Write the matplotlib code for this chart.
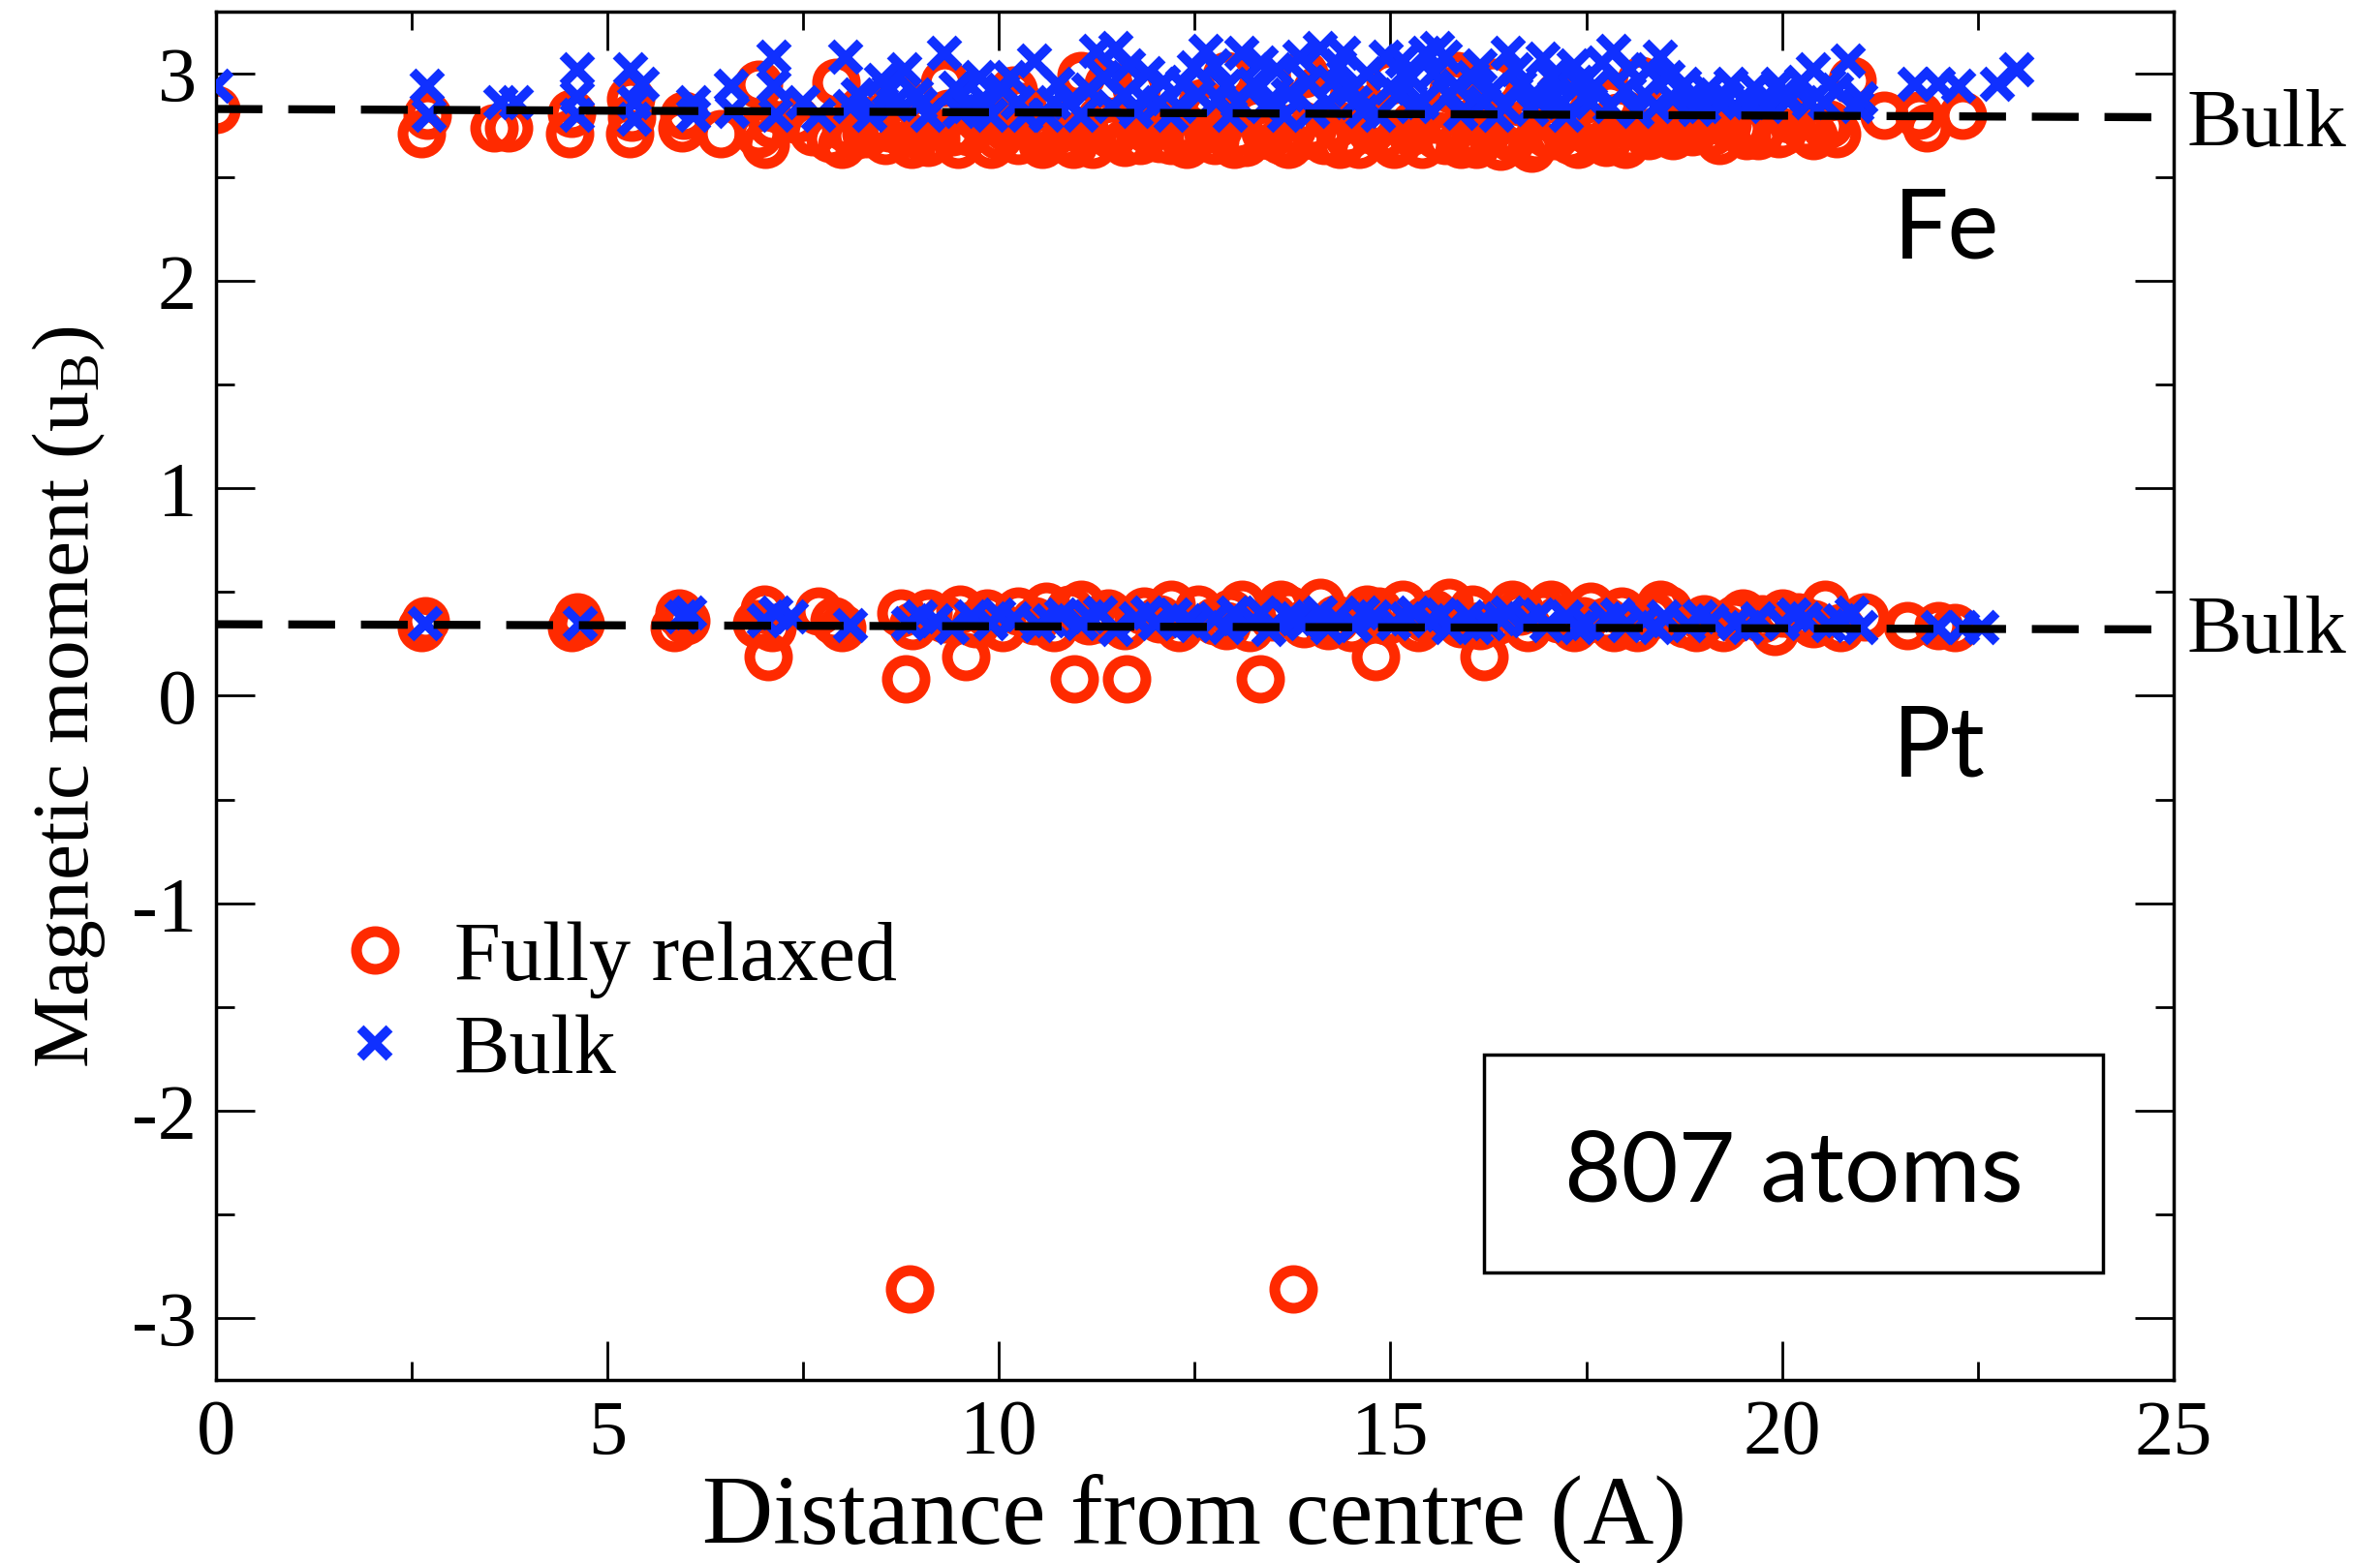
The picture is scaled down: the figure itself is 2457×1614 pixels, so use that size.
import matplotlib
matplotlib.use("Agg")
import matplotlib.pyplot as plt
from matplotlib.patches import Rectangle
from matplotlib.ticker import MultipleLocator

plt.rcParams.update({
    "font.family": "Liberation Serif",
    "mathtext.fontset": "custom",
    "mathtext.rm": "Liberation Serif",
    "mathtext.it": "Liberation Serif:italic",
    "axes.unicode_minus": False,
})

RED = "#ff2a00"
BLUE = "#1030ff"

# ── Fe sites: magnetic moment vs distance from centre ────────────────
fe_relaxed_x = [0.00, 2.63, 2.70, 3.56, 3.74, 4.52, 4.55, 5.28, 5.30, 5.31,
                5.95, 5.98, 6.45, 6.93, 6.93, 7.02, 7.10, 7.40, 7.62, 7.85,
                7.92, 8.00, 8.05, 8.30, 8.42, 8.55, 8.70, 8.78, 8.88, 9.05,
                9.20, 9.35, 9.48, 9.62, 9.75, 10.00, 10.18, 10.25, 10.40, 10.55,
                10.70, 10.85, 10.95, 11.05, 11.10, 11.30, 11.45, 11.60, 11.75, 11.90,
                12.05, 12.20, 12.35, 12.50, 12.60, 12.75, 12.90, 13.05, 13.15, 13.30,
                13.45, 13.60, 13.75, 13.90, 14.05, 14.15, 14.30, 14.45, 14.60, 14.75,
                14.90, 15.00, 15.10, 15.25, 15.40, 15.55, 15.70, 15.85, 15.95, 16.10,
                16.25, 16.40, 16.55, 16.70, 16.85, 17.00, 17.15, 17.30, 17.45, 17.60,
                17.75, 17.90, 18.05, 18.20, 18.35, 18.55, 18.70, 18.90, 19.10, 19.30,
                19.55, 19.75, 19.95, 20.10, 20.30, 20.55, 20.70, 20.90, 21.30, 21.75,
                21.85, 22.30,
                8.15, 8.60, 9.10, 9.40, 9.90, 10.10, 10.60, 11.20, 11.50, 11.80,
                12.10, 12.40, 12.80, 13.00, 13.40, 13.70, 14.00, 14.35, 14.70, 15.05,
                15.30, 15.60, 15.90, 16.20, 16.50, 16.80, 17.10, 17.40, 17.70, 18.00,
                18.30, 18.60, 18.85, 19.20, 19.45, 19.70, 20.00, 20.40, 20.60, 11.00,
                12.70, 14.50, 16.00, 17.80, 10.30, 15.80, 16.30, 11.40, 9.30, 13.90]
fe_relaxed_m = [2.83, 2.71, 2.80, 2.74, 2.74, 2.71, 2.81, 2.71, 2.88, 2.79,
                2.74, 2.80, 2.71, 2.95, 2.71, 2.66, 2.76, 2.78, 2.72, 2.69,
                2.96, 2.66, 2.74, 2.71, 2.78, 2.68, 2.91, 2.71, 2.66, 2.75,
                2.69, 2.81, 2.66, 2.72, 2.78, 2.70, 2.92, 2.68, 2.76, 2.66,
                2.72, 2.69, 2.66, 2.99, 2.72, 2.78, 2.70, 2.67, 2.93, 2.73,
                2.69, 2.68, 2.75, 2.70, 2.86, 2.68, 2.99, 2.72, 2.67, 2.79,
                2.70, 2.68, 2.74, 2.70, 2.92, 2.68, 2.76, 2.70, 2.66, 2.73,
                2.70, 2.97, 2.68, 2.72, 2.66, 2.78, 2.68, 2.99, 2.71, 2.66,
                2.73, 2.65, 2.69, 2.76, 2.67, 2.71, 2.90, 2.68, 2.74, 2.70,
                2.67, 2.79, 2.69, 2.97, 2.72, 2.76, 2.74, 2.77, 2.72, 2.76,
                2.70, 2.74, 2.71, 2.78, 2.73, 2.75, 2.71, 2.97, 2.80, 2.80,
                2.74, 2.80,
                2.70, 2.74, 2.67, 2.72, 2.66, 2.74, 2.70, 2.66, 2.74, 2.68,
                2.78, 2.66, 2.74, 2.66, 2.72, 2.66, 2.74, 2.66, 2.78, 2.66,
                2.76, 2.70, 2.66, 2.76, 2.72, 2.64, 2.70, 2.66, 2.73, 2.66,
                2.70, 2.70, 2.72, 2.68, 2.74, 2.70, 2.72, 2.70, 2.76, 2.82,
                2.82, 2.84, 2.84, 2.86, 2.84, 2.92, 2.96, 2.95, 2.96, 3.00]

fe_bulk_x = [0.00, 2.70, 2.72, 3.64, 3.84, 4.62, 4.62, 4.62, 5.30, 5.45,
             5.35, 5.35, 6.10, 6.10, 6.58, 6.60, 7.13, 7.13, 7.15, 7.50,
             7.70, 8.05, 8.20, 8.35, 8.50, 8.65, 8.80, 8.95, 9.10, 9.30,
             9.45, 9.60, 9.75, 9.90, 10.05, 10.25, 10.45, 10.60, 10.75, 10.90,
             11.05, 11.25, 11.35, 11.50, 11.60, 11.75, 11.90, 12.05, 12.20, 12.35,
             12.50, 12.65, 12.80, 12.95, 13.10, 13.25, 13.40, 13.55, 13.70, 13.85,
             14.00, 14.10, 14.25, 14.40, 14.55, 14.70, 14.85, 15.00, 15.15, 15.30,
             15.45, 15.60, 15.75, 15.90, 16.05, 16.20, 16.35, 16.50, 16.65, 16.80,
             16.95, 17.10, 17.25, 17.40, 17.55, 17.70, 17.85, 18.00, 18.15, 18.30,
             18.45, 18.60, 18.75, 18.90, 19.05, 19.20, 19.35, 19.50, 19.65, 19.80,
             19.95, 20.10, 20.25, 20.40, 20.55, 20.70, 20.85, 21.00, 21.70, 22.00,
             22.25, 22.75, 23.00,
             8.10, 8.60, 9.00, 9.50, 9.80, 10.15, 10.35, 10.70, 11.15, 11.45,
             11.65, 11.85, 12.10, 12.30, 12.55, 12.75, 12.90, 13.05, 13.35, 13.50,
             13.65, 13.95, 14.20, 14.35, 14.50, 14.65, 14.95, 15.10, 15.25, 15.40,
             15.55, 15.70, 15.85, 16.15, 16.30, 16.45, 16.60, 16.90, 17.05, 17.20,
             17.35, 17.60, 17.80, 18.05, 18.25, 18.40, 18.55, 18.85, 19.00, 19.30,
             19.60, 20.00, 20.35, 20.60, 20.95]
fe_bulk_m = [2.94, 2.94, 2.80, 2.86, 2.86, 3.02, 2.89, 2.80, 3.02, 2.95,
             2.86, 2.78, 2.86, 2.80, 2.94, 2.82, 3.08, 2.94, 2.80, 2.86,
             2.80, 3.08, 2.90, 2.80, 2.97, 2.85, 3.02, 2.90, 2.80, 3.10,
             2.93, 2.84, 2.98, 2.80, 2.92, 2.86, 3.06, 2.80, 2.95, 2.86,
             2.80, 3.11, 2.98, 3.12, 2.90, 2.82, 3.00, 2.86, 2.80, 2.95,
             3.03, 3.11, 2.88, 2.80, 3.10, 2.95, 2.84, 3.02, 2.90, 3.08,
             2.82, 3.12, 2.96, 3.10, 2.86, 3.00, 2.80, 2.93, 3.06, 2.84,
             3.10, 3.12, 2.90, 2.81, 2.98, 2.86, 2.80, 3.10, 2.94, 2.83,
             3.07, 2.90, 2.80, 2.96, 2.86, 3.05, 3.11, 2.92, 2.82, 3.02,
             3.08, 2.88, 2.95, 2.83, 2.92, 2.86, 2.95, 2.88, 2.93, 2.84,
             2.95, 2.88, 2.96, 3.02, 2.86, 2.92, 3.06, 2.88, 2.95, 2.95,
             2.94, 2.95, 3.02,
             2.84, 2.92, 2.85, 2.82, 2.88, 2.98, 2.80, 2.86, 2.92, 2.84,
             3.04, 2.88, 2.96, 2.84, 2.90, 3.04, 2.94, 2.86, 3.05, 2.88,
             2.80, 2.96, 2.86, 3.04, 2.92, 2.82, 3.08, 2.90, 2.98, 2.86,
             3.00, 3.08, 2.94, 3.04, 2.92, 2.84, 3.02, 2.88, 2.98, 2.86,
             3.04, 2.94, 2.84, 3.02, 2.90, 2.84, 2.98, 2.90, 2.84, 2.88,
             2.86, 2.90, 2.86, 2.95, 2.84]

# ── Pt sites ─────────────────────────────────────────────────────────
pt_relaxed_x = [2.63, 2.68, 4.55, 4.62, 4.65, 5.85, 5.92, 6.00, 6.90, 7.00,
                7.06, 7.10, 7.70, 7.90, 8.00, 8.75, 8.81, 8.86, 8.90, 9.30,
                9.50, 9.58, 9.70, 9.85, 10.05, 10.25, 10.45, 10.70, 10.90, 10.96,
                11.05, 11.15, 11.40, 11.60, 11.63, 11.85, 12.05, 12.30, 12.55, 12.75,
                12.95, 13.10, 13.20, 13.34, 13.50, 13.70, 13.76, 13.90, 14.10, 14.30,
                14.50, 14.70, 14.81, 14.95, 15.15, 15.35, 15.55, 15.75, 15.90, 16.05,
                16.19, 16.35, 16.55, 16.75, 16.95, 17.15, 17.35, 17.55, 17.75, 17.95,
                18.15, 18.35, 18.55, 18.75, 19.00, 19.25, 19.50, 19.75, 19.90, 20.20,
                20.55, 20.75, 21.05, 21.60, 22.00, 22.20,
                9.10, 10.60, 11.30, 12.20, 12.90, 13.60, 14.20, 14.85, 15.45, 16.15,
                16.65, 17.05, 17.45, 17.85, 18.45, 18.90, 19.40, 20.00, 20.40]
pt_relaxed_m = [0.33, 0.36, 0.33, 0.38, 0.35, 0.33, 0.40, 0.36, 0.35, 0.42,
                0.19, 0.33, 0.41, 0.36, 0.33, 0.40, 0.08, -2.86, 0.34, 0.37,
                0.42, 0.19, 0.35, 0.40, 0.33, 0.41, 0.36, 0.33, 0.42, 0.08,
                0.44, 0.36, 0.40, 0.34, 0.08, 0.41, 0.37, 0.33, 0.42, 0.36,
                0.40, 0.44, 0.33, 0.08, 0.38, 0.42, -2.86, 0.35, 0.45, 0.37,
                0.33, 0.42, 0.19, 0.36, 0.44, 0.33, 0.40, 0.45, 0.35, 0.42,
                0.19, 0.36, 0.44, 0.33, 0.41, 0.37, 0.33, 0.43, 0.36, 0.41,
                0.33, 0.39, 0.42, 0.35, 0.37, 0.33, 0.40, 0.37, 0.31, 0.38,
                0.44, 0.33, 0.38, 0.34, 0.34, 0.33,
                0.40, 0.43, 0.37, 0.44, 0.34, 0.44, 0.34, 0.41, 0.37, 0.34,
                0.41, 0.44, 0.36, 0.33, 0.44, 0.33, 0.37, 0.40, 0.35]

pt_bulk_x = [2.68, 4.65, 5.95, 6.05, 7.00, 7.15, 7.35, 8.10, 8.85, 9.00,
             9.40, 9.65, 9.90, 10.20, 10.50, 10.80, 11.05, 11.30, 11.50, 11.75,
             12.00, 12.25, 12.50, 12.75, 13.00, 13.25, 13.45, 13.70, 13.90, 14.10,
             14.30, 14.55, 14.80, 15.05, 15.30, 15.50, 15.75, 16.00, 16.25, 16.50,
             16.75, 17.00, 17.25, 17.50, 17.75, 18.00, 18.25, 18.50, 18.80, 19.10,
             19.40, 19.70, 20.00, 20.30, 20.60, 20.90, 21.00, 22.00, 22.30, 22.55,
             9.20, 10.00, 10.65, 11.15, 11.90, 12.40, 12.90, 13.35, 13.80, 14.20,
             14.65, 15.20, 15.65, 16.10, 16.40, 16.90, 17.40, 17.90, 18.40, 18.95,
             19.55, 20.15, 20.75]
pt_bulk_m = [0.35, 0.35, 0.38, 0.40, 0.36, 0.40, 0.38, 0.34, 0.35, 0.38,
             0.33, 0.38, 0.35, 0.37, 0.34, 0.39, 0.35, 0.40, 0.32, 0.37,
             0.35, 0.39, 0.34, 0.37, 0.40, 0.36, 0.32, 0.38, 0.35, 0.40,
             0.37, 0.34, 0.38, 0.35, 0.40, 0.36, 0.33, 0.38, 0.35, 0.40,
             0.36, 0.34, 0.38, 0.35, 0.37, 0.34, 0.36, 0.38, 0.34, 0.36,
             0.35, 0.37, 0.35, 0.37, 0.34, 0.40, 0.33, 0.33, 0.33, 0.33,
             0.36, 0.39, 0.36, 0.38, 0.40, 0.36, 0.33, 0.40, 0.37, 0.33,
             0.40, 0.37, 0.39, 0.33, 0.37, 0.39, 0.33, 0.39, 0.33, 0.38,
             0.33, 0.39, 0.36]

# bulk reference moments (start / end of the dashed guide lines)
bulk_x = [0.0, 25.0]
fe_bulk_line = [2.83, 2.79]
pt_bulk_line = [0.345, 0.32]

fig = plt.figure(figsize=(24.57, 16.15), dpi=100)
ax = fig.add_axes([0.0906, 0.117, 0.8227, 0.875])

circ = dict(linestyle="none", marker="o", ms=28, mew=8, mfc="none", mec=RED, zorder=2)
cross = dict(linestyle="none", marker="x", ms=22, mew=7, color=BLUE, zorder=3)

ax.plot(fe_relaxed_x, fe_relaxed_m, label="Fully relaxed", **circ)
ax.plot(pt_relaxed_x, pt_relaxed_m, **circ)
ax.plot(fe_bulk_x, fe_bulk_m, label="Bulk", **cross)
ax.plot(pt_bulk_x, pt_bulk_m, **cross)

dash = dict(color="black", lw=6, linestyle=(0, (5.8, 3.2)), zorder=4)
ax.plot(bulk_x, fe_bulk_line, **dash)
ax.plot(bulk_x, pt_bulk_line, **dash)

ax.set_xlim(0, 25)
ax.set_ylim(-3.3, 3.3)
ax.xaxis.set_major_locator(MultipleLocator(5))
ax.xaxis.set_minor_locator(MultipleLocator(2.5))
ax.yaxis.set_major_locator(MultipleLocator(1))
ax.yaxis.set_minor_locator(MultipleLocator(0.5))
ax.tick_params(which="both", direction="in", top=True, right=True, width=2)
ax.tick_params(which="major", length=29, labelsize=58, pad=14)
ax.tick_params(which="minor", length=14)
for sp in ax.spines.values():
    sp.set_linewidth(2.5)

ax.set_xlabel("Distance from centre (A)", fontsize=73, labelpad=2)
ax.set_ylabel(r"Magnetic moment (u$_\mathrm{B}$)", fontsize=60, labelpad=18)

# right-hand labels for the bulk guide lines
ax.text(25.17, 2.75, "Bulk", fontsize=61, ha="left", va="center", clip_on=False)
ax.text(25.17, 0.31, "Bulk", fontsize=61, ha="left", va="center", clip_on=False)

ax.text(22.1, 2.25, "Fe", fontsize=72, family="Lato", ha="center", va="center")
ax.text(22.0, -0.25, "Pt", fontsize=72, family="Lato", ha="center", va="center")

ax.add_patch(Rectangle((16.2, -2.78), 7.9, 1.05, fill=False, ec="black", lw=2.5, zorder=5))
ax.text(20.15, -2.3, "807 atoms", fontsize=73, family="Lato", ha="center", va="center")

ax.legend(loc="upper left", bbox_to_anchor=(0.06, 0.336), frameon=False,
          fontsize=62, handlelength=1.0, handletextpad=0.45, borderpad=0,
          borderaxespad=0, labelspacing=0.2, markerscale=1.0, numpoints=1)

fig.savefig("out.png", dpi=100)
